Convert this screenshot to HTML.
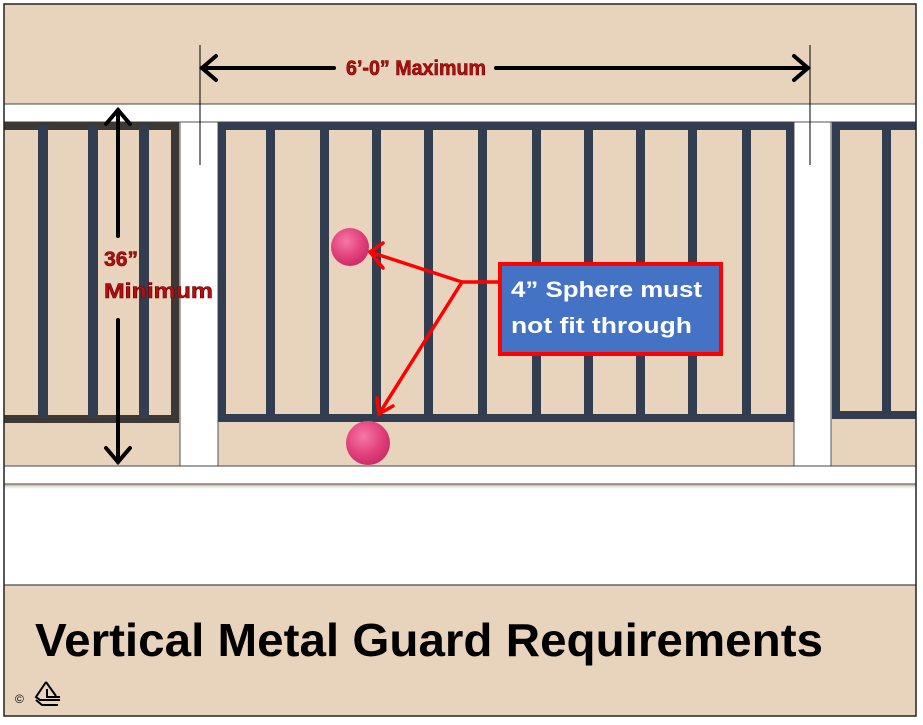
<!DOCTYPE html>
<html><head><meta charset="utf-8"><style>html,body{margin:0;padding:0;background:#fff}svg{display:block}</style></head>
<body>
<svg width="923" height="725" viewBox="0 0 923 725" xmlns="http://www.w3.org/2000/svg">
<defs>
<radialGradient id="sp" cx="0.4" cy="0.35" r="0.7">
<stop offset="0" stop-color="#f479a6"/><stop offset="0.6" stop-color="#e2407a"/><stop offset="1" stop-color="#c82a62"/>
</radialGradient>
<linearGradient id="sh" x1="0" y1="0" x2="0" y2="1"><stop offset="0" stop-color="#bbb"/><stop offset="1" stop-color="#fff" stop-opacity="0"/></linearGradient>
</defs>
<rect x="0" y="0" width="923" height="725" fill="#fff"/>
<rect x="4" y="4" width="912" height="712" fill="#e8d3bd"/>
<rect x="4" y="104" width="912" height="18" fill="#fff" stroke="#444" stroke-width="1"/>
<g fill="#3b3835">
<rect x="4" y="122" width="175" height="8"/>
<rect x="4" y="415" width="175" height="8"/>
<rect x="171" y="122" width="8" height="301"/>
</g>
<g fill="#323e4f">
<rect x="38" y="126" width="10" height="292"/>
<rect x="88" y="126" width="10" height="292"/>
<rect x="139" y="126" width="10" height="292"/>
</g>
<rect x="180" y="122" width="38" height="344" fill="#fff" stroke="#555" stroke-width="1"/>
<rect x="794" y="122" width="37" height="344" fill="#fff" stroke="#555" stroke-width="1"/>
<g fill="#323e4f">
<rect x="218" y="122" width="575" height="8"/>
<rect x="218" y="414" width="575" height="8"/>
<rect x="218" y="122" width="8" height="300"/>
<rect x="786" y="122" width="8" height="300"/>
<rect x="266" y="126" width="9" height="292"/>
<rect x="320" y="126" width="9" height="292"/>
<rect x="372" y="126" width="9" height="292"/>
<rect x="424" y="126" width="9" height="292"/>
<rect x="478" y="126" width="9" height="292"/>
<rect x="532" y="126" width="9" height="292"/>
<rect x="584" y="126" width="9" height="292"/>
<rect x="636" y="126" width="9" height="292"/>
<rect x="688" y="126" width="9" height="292"/>
<rect x="742" y="126" width="9" height="288"/>
</g>
<g fill="#323e4f">
<rect x="832" y="122" width="84" height="8"/>
<rect x="832" y="411" width="84" height="8"/>
<rect x="832" y="122" width="8" height="297"/>
<rect x="882" y="126" width="9" height="290"/>
</g>
<rect x="4" y="466" width="912" height="18" fill="#fff" stroke="#444" stroke-width="1"/>
<rect x="4" y="485" width="912" height="100" fill="#fff"/>
<rect x="4" y="485" width="912" height="5" fill="url(#sh)"/>
<line x1="4" y1="585" x2="916" y2="585" stroke="#222" stroke-width="1"/>
<line x1="200" y1="45" x2="200" y2="165" stroke="#000" stroke-width="1"/>
<line x1="810" y1="45" x2="810" y2="165" stroke="#000" stroke-width="1"/>
<g stroke="#000" stroke-width="4" fill="none" stroke-linecap="round">
<line x1="202" y1="68" x2="334" y2="68"/>
<line x1="496" y1="68" x2="808" y2="68"/>
<polyline points="216,56 202,68 216,80"/>
<polyline points="794,56 808,68 794,80"/>
<line x1="118" y1="110" x2="118" y2="236"/>
<line x1="118" y1="320" x2="118" y2="462"/>
<polyline points="106,124 118,110 130,124"/>
<polyline points="106,448 118,462 130,448"/>
</g>
<g font-family="'Liberation Sans',sans-serif" font-weight="bold" fill="#b41010" stroke="#6a0000" stroke-width="0.6">
<text x="346" y="75" font-size="21" textLength="140" lengthAdjust="spacingAndGlyphs">6’-0” Maximum</text>
<text x="104" y="266" font-size="21" textLength="34" lengthAdjust="spacingAndGlyphs">36”</text>
<text x="104" y="298" font-size="21" textLength="109" lengthAdjust="spacingAndGlyphs">Minimum</text>
</g>
<circle cx="350" cy="247" r="19" fill="url(#sp)"/>
<circle cx="368" cy="443" r="22" fill="url(#sp)"/>
<g stroke="#f00" stroke-width="3.5" fill="none" stroke-linecap="round">
<line x1="499" y1="282" x2="462" y2="282"/>
<line x1="462" y1="282" x2="370" y2="252"/>
<line x1="462" y1="282" x2="379" y2="414"/>
<polyline points="383,243 370,252 383,268"/>
<polyline points="377,398 379,414 393,406"/>
</g>
<rect x="500" y="264" width="221" height="90" fill="#4472c4" stroke="#f00" stroke-width="4"/>
<g font-family="'Liberation Sans',sans-serif" font-weight="bold" fill="#fff" font-size="22">
<text x="511" y="297" textLength="191" lengthAdjust="spacingAndGlyphs">4” Sphere must</text>
<text x="511" y="333" textLength="181" lengthAdjust="spacingAndGlyphs">not fit through</text>
</g>
<text x="35" y="656" font-family="'Liberation Sans',sans-serif" font-weight="bold" font-size="46" fill="#000" textLength="788" lengthAdjust="spacingAndGlyphs">Vertical Metal Guard Requirements</text>
<text x="15" y="703" font-family="'Liberation Sans',sans-serif" font-size="12" fill="#000">©</text>
<g stroke="#000" stroke-width="2" fill="none">
<path d="M46,682 L36,697 L40,700 L60,700"/>
<path d="M46,682 L56,696"/>
<path d="M47,689 L47,697 L60,697"/>
<path d="M36,700 L42,705 L58,705"/>
</g>
<rect x="4" y="4" width="912" height="712" fill="none" stroke="#222" stroke-width="1.5"/>
</svg>
</body></html>
